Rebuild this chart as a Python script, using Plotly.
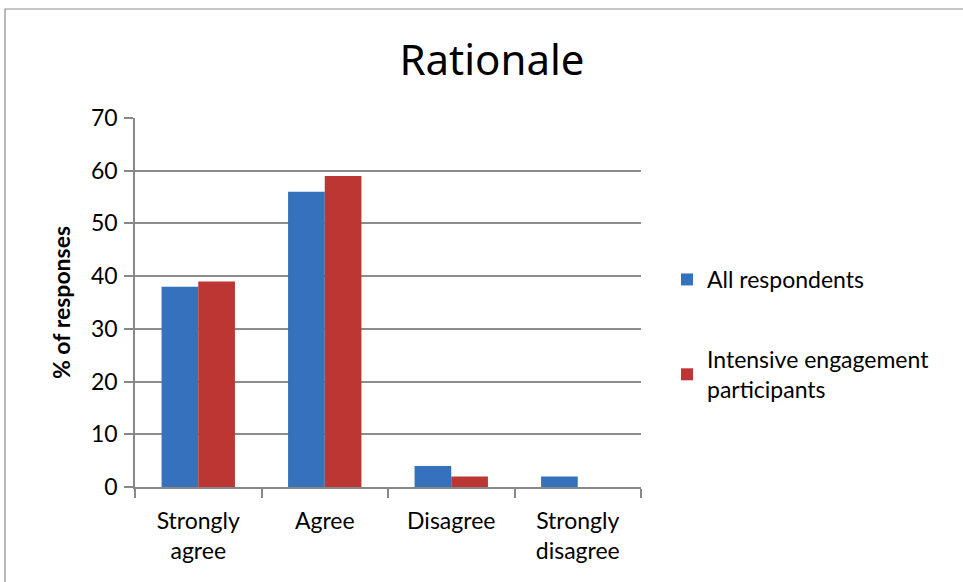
import plotly.graph_objects as go

categories = ["Strongly<br>agree", "Agree", "Disagree", "Strongly<br>disagree"]
all_respondents = [38, 56, 4, 2]
intensive = [39, 59, 2, 0]
series_names = ["All respondents", "Intensive engagement<br>participants"]
y_ticks = [0, 10, 20, 30, 40, 50, 60, 70]

FONT = "Lato, Noto Sans, sans-serif"
FS = 23

fig = go.Figure()
fig.add_trace(go.Bar(x=categories, y=all_respondents, name=series_names[0],
                     marker=dict(color="#3571BC", line=dict(width=0)),
                     legendgroup="a"))
fig.add_trace(go.Bar(x=categories, y=intensive, name=series_names[1],
                     marker=dict(color="#BC3634", line=dict(width=0)),
                     legendgroup="b"))

L, R, T, B = 135, 322, 118, 95
W, H = 963, 582
pw, ph = W - L - R, H - T - B

fig.update_layout(
    width=W, height=H,
    margin=dict(l=L, r=R, t=T, b=B, pad=0),
    paper_bgcolor="white", plot_bgcolor="white",
    barmode="group", bargap=0.42, bargroupgap=0,
    font=dict(family=FONT, size=FS, color="black"),
    title=dict(text="Rationale", x=492 / W, xanchor="center",
               y=1 - 60 / H, yanchor="middle",
               font=dict(family="Liberation Sans Narrow, Arial Narrow, Noto Sans, sans-serif", size=42, color="black")),
    legend=dict(x=(667 - L) / pw, y=(487 - 258) / ph, xanchor="left", yanchor="top",
                traceorder="grouped", tracegroupgap=47,
                font=dict(family=FONT, size=FS, color="black"),
                itemwidth=30, bgcolor="rgba(0,0,0,0)"),
    showlegend=True,
    xaxis=dict(showline=True, linecolor="#888888", linewidth=1.5,
               ticks="outside", tickson="boundaries", ticklen=9, tickcolor="#888888", tickwidth=1.5,
               ticklabelstandoff=13,
               tickfont=dict(family=FONT, size=FS, color="black"), showgrid=False),
    yaxis=dict(range=[0, 70], tickvals=y_ticks, showline=True, linecolor="#888888", linewidth=1.5,
               ticks="outside", ticklen=9, tickcolor="#888888", tickwidth=1.5,
               ticklabelstandoff=2,
               showgrid=True, gridcolor="#8c8c8c", gridwidth=1.5, zeroline=False,
               tickfont=dict(family=FONT, size=FS, color="black"),
               title=dict(text="<b>% of responses</b>", standoff=14,
                          font=dict(family=FONT, size=FS, color="black"))),
)

fig.add_shape(type="rect", xref="paper", yref="paper",
              x0=(5 - L) / pw, x1=(975 - L) / pw, y0=(H - 595 - B) / ph, y1=(H - 9 - B) / ph,
              line=dict(color="#8c8c8c", width=1.2), fillcolor="rgba(0,0,0,0)", layer="below")

fig.write_html("out.html", config={"displayModeBar": False},
               post_script="document.body.style.margin='0';document.body.style.overflow='hidden';")
